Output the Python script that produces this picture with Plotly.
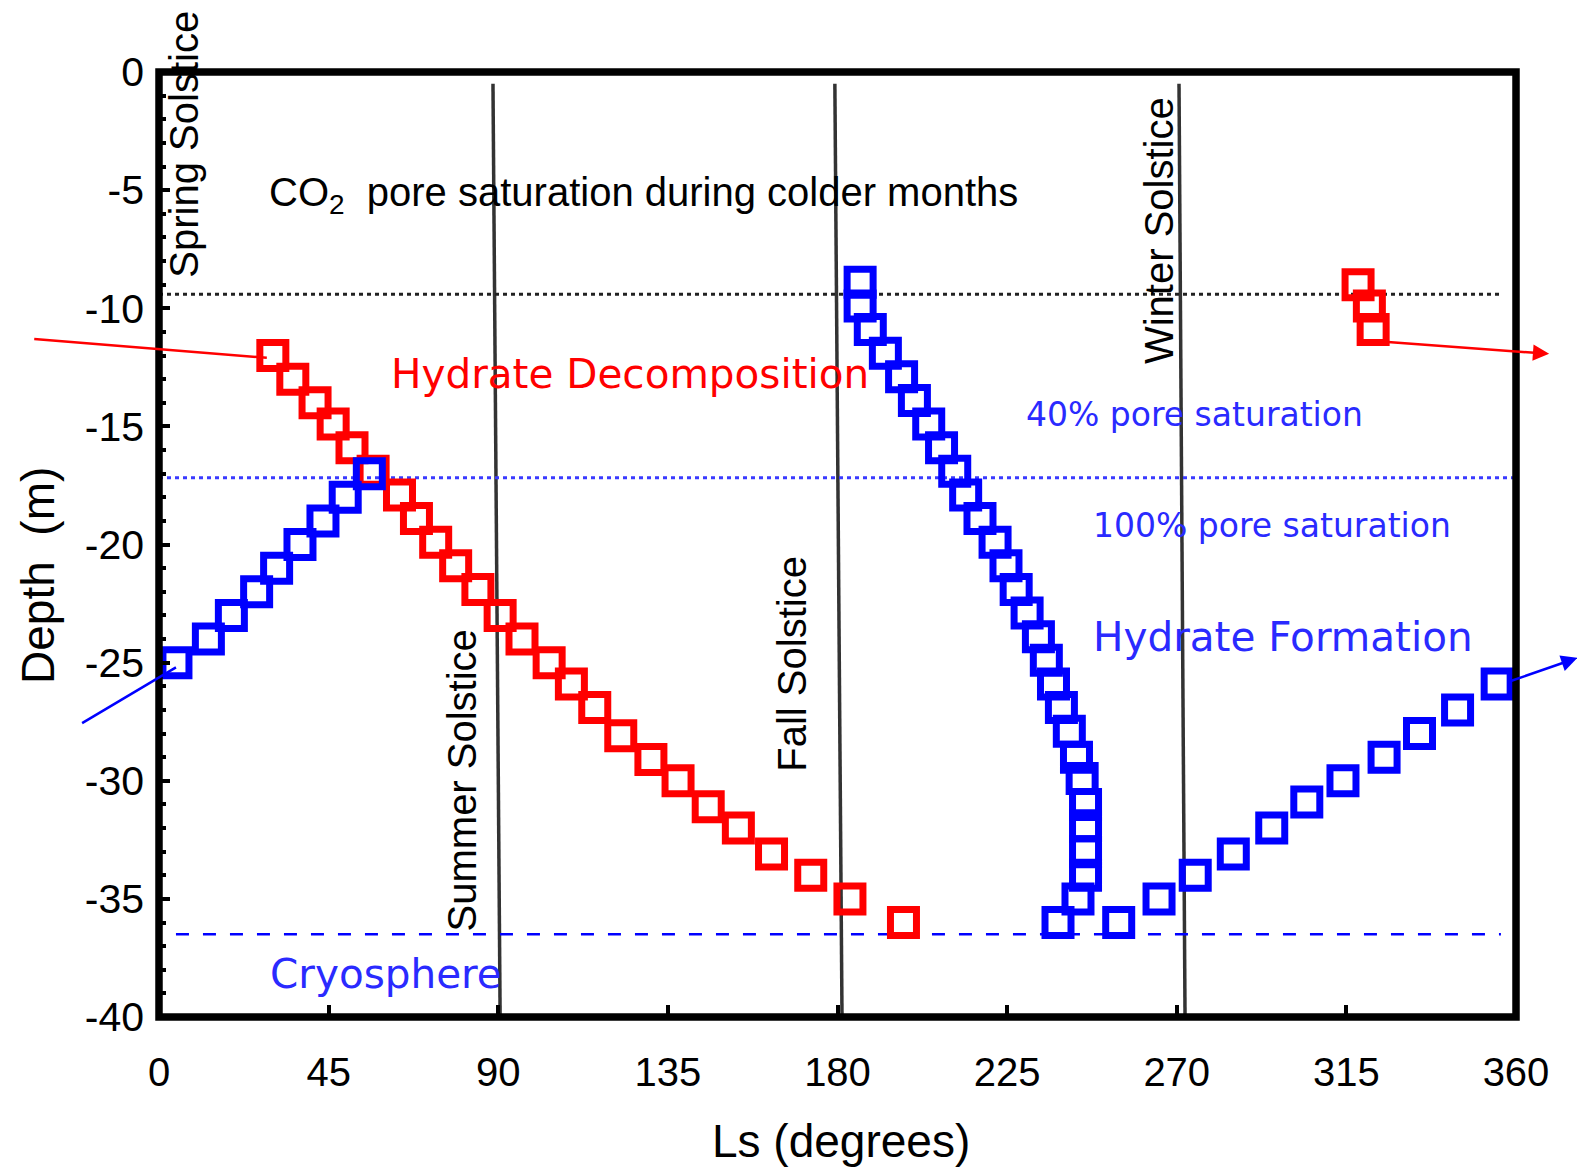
import plotly.graph_objects as go

# ---------------- data ----------------
red_ls = [30.2, 35.5, 41.4, 46.2, 51.2, 56.8, 63.8, 68.3, 73.4, 78.7, 84.6, 90.5,
          96.3, 103.5, 109.4, 115.6, 122.5, 130.5, 137.7, 145.7, 153.7, 162.5,
          172.9, 183.3, 197.5, 318.1, 321.1, 322.1]
red_depth = [-12.0, -13.0, -14.0, -14.9, -15.9, -16.9, -17.9, -18.9, -19.9, -20.9,
             -21.9, -23.0, -24.0, -25.0, -25.9, -26.9, -28.1, -29.1, -30.0, -31.1,
             -32.0, -33.1, -34.0, -35.0, -36.0, -9.0, -9.9, -10.9]

blue_ls = [4.5, 13.1, 19.2, 25.9, 31.2, 37.4, 43.5, 49.4, 55.8,
           186.0, 186.0, 188.7, 192.7, 197.0, 200.4, 204.2, 207.6, 211.1, 214.0,
           217.8, 221.8, 224.7, 227.4, 230.3, 233.3, 235.4, 237.3, 239.4, 241.5,
           243.4, 244.9, 245.8, 245.8, 245.8, 245.8, 243.8, 238.5,
           254.6, 265.3, 274.9, 285.0, 295.2, 304.5, 314.1, 325.0, 334.4, 344.5, 355.0]
blue_depth = [-25.0, -24.0, -23.0, -22.0, -21.0, -20.0, -19.0, -18.0, -17.0,
              -8.9, -9.9, -10.9, -11.9, -12.9, -13.9, -14.9, -15.9, -16.9, -17.9,
              -18.9, -19.9, -20.9, -21.9, -22.9, -23.9, -24.9, -25.9, -26.9, -27.9,
              -29.0, -29.9, -31.0, -31.9, -33.0, -34.0, -35.0, -36.0,
              -36.0, -35.0, -34.0, -33.1, -32.0, -30.9, -30.0, -29.0, -28.0, -27.0, -25.9]

x_tickvals = [0, 45, 90, 135, 180, 225, 270, 315, 360]
x_ticktext = ["0", "45", "90", "135", "180", "225", "270", "315", "360"]
y_tickvals = [0, -5, -10, -15, -20, -25, -30, -35, -40]
y_ticktext = ["0", "-5", "-10", "-15", "-20", "-25", "-30", "-35", "-40"]
y_minor = [v for v in range(0, -41, -1)]

# reference levels
co2_level = -9.41
sat100_level = -17.17
cryo_level = -36.5
solstices = {"Summer": (88.6, 90.5), "Fall": (179.3, 181.2), "Winter": (270.6, 272.2)}

ARIAL = "Liberation Sans, Arial, sans-serif"
VERD = "DejaVu Sans, Verdana, sans-serif"
RED = "#ff0000"
BLUE = "#0000ff"
BLUE_TXT = "#2a2aff"

fig = go.Figure()

fig.add_trace(go.Scatter(
    x=red_ls, y=red_depth, mode="markers",
    marker=dict(symbol="square-open", size=26, color=RED,
                line=dict(width=7, color=RED)),
    showlegend=False))
fig.add_trace(go.Scatter(
    x=blue_ls, y=blue_depth, mode="markers",
    marker=dict(symbol="square-open", size=26, color=BLUE,
                line=dict(width=7, color=BLUE)),
    showlegend=False))

shapes = []
# solstice lines
for name, (xt, xb) in solstices.items():
    shapes.append(dict(type="line", xref="x", yref="y", x0=xt, y0=-0.5, x1=xb, y1=-40,
                       line=dict(color="#333333", width=3.5), layer="below"))
# horizontal reference lines
shapes.append(dict(type="line", xref="x", yref="y", x0=0, x1=356.5, y0=co2_level, y1=co2_level,
                   line=dict(color="#222222", width=3, dash="4px,4px"), layer="below"))
shapes.append(dict(type="line", xref="x", yref="y", x0=0, x1=360, y0=sat100_level, y1=sat100_level,
                   line=dict(color="#3a3aff", width=3, dash="4px,4px"), layer="below"))
shapes.append(dict(type="line", xref="x", yref="y", x0=4.5, x1=356, y0=cryo_level, y1=cryo_level,
                   line=dict(color=BLUE, width=2.5, dash="13px,14px"), layer="below"))
# frame
shapes.append(dict(type="rect", xref="paper", yref="paper", x0=0, x1=1, y0=0, y1=1,
                   line=dict(color="black", width=7.5), layer="above"))

annotations = []
def txt(x, y, s, size, color="black", family=ARIAL, angle=0, xref="x", yref="y"):
    annotations.append(dict(x=x, y=y, xref=xref, yref=yref, text=s, showarrow=False,
                            textangle=angle, xanchor="center", yanchor="middle",
                            font=dict(size=size, color=color, family=family)))

txt(6.4, -3.07, "Spring Solstice", 40, angle=-90)
txt(80.3, -30.0, "Summer Solstice", 40, angle=-90)
txt(167.9, -25.05, "Fall Solstice", 40, angle=-90)
txt(265.3, -6.73, "Winter Solstice", 40, angle=-90)
txt(128.6, -5.2, "CO<sub>2</sub>  pore saturation during colder months", 40)
txt(124.9, -12.8, "Hydrate Decomposition", 40.5, RED, VERD)
txt(274.6, -14.5, "40% pore saturation", 33, BLUE_TXT, VERD)
txt(295.4, -19.2, "100% pore saturation", 33, BLUE_TXT, VERD)
txt(298.1, -23.9, "Hydrate Formation", 40.5, BLUE_TXT, VERD)
txt(60.3, -38.2, "Cryosphere", 40.5, BLUE_TXT, VERD)
# axis titles
txt(0.5026, -0.131, "Ls (degrees)", 46, xref="paper", yref="paper")
txt(-0.0892, 0.4677, "Depth  (m)", 46, angle=-90, xref="paper", yref="paper")

def arrow(x, y, ax, ay, color, head):
    annotations.append(dict(x=x, y=y, ax=ax, ay=ay, xref="x", yref="y", axref="x", ayref="y",
                            text="", showarrow=True, arrowhead=head, arrowsize=1.3,
                            arrowwidth=2.5, arrowcolor=color, standoff=0))

arrow(28.6, -12.1, -33.5, -11.3, RED, 0)
arrow(368.8, -11.93, 325.6, -11.42, RED, 2)
arrow(4.5, -25.2, -20.8, -27.6, BLUE, 0)
arrow(376.3, -24.8, 358.2, -25.8, BLUE, 2)

fig.update_layout(
    width=1577, height=1168,
    margin=dict(l=159, r=61, t=72, b=151),
    paper_bgcolor="white", plot_bgcolor="white",
    shapes=shapes, annotations=annotations,
    xaxis=dict(range=[0, 360], tickvals=x_tickvals, ticktext=x_ticktext,
               ticks="inside", ticklen=12, tickwidth=3.5, tickcolor="black",
               showgrid=False, zeroline=False, showline=False,
               ticklabelstandoff=28,
               tickfont=dict(size=40, family=ARIAL, color="black")),
    yaxis=dict(range=[-40, 0], tickvals=y_tickvals, ticktext=y_ticktext,
               ticks="inside", ticklen=11, tickwidth=3.5, tickcolor="black",
               showgrid=False, zeroline=False, showline=False,
               ticklabelstandoff=14,
               minor=dict(tickvals=y_minor, ticks="inside", ticklen=7, tickwidth=3.5,
                          tickcolor="black", showgrid=False),
               tickfont=dict(size=41, family=ARIAL, color="black")),
)

fig.write_html("out.html")
